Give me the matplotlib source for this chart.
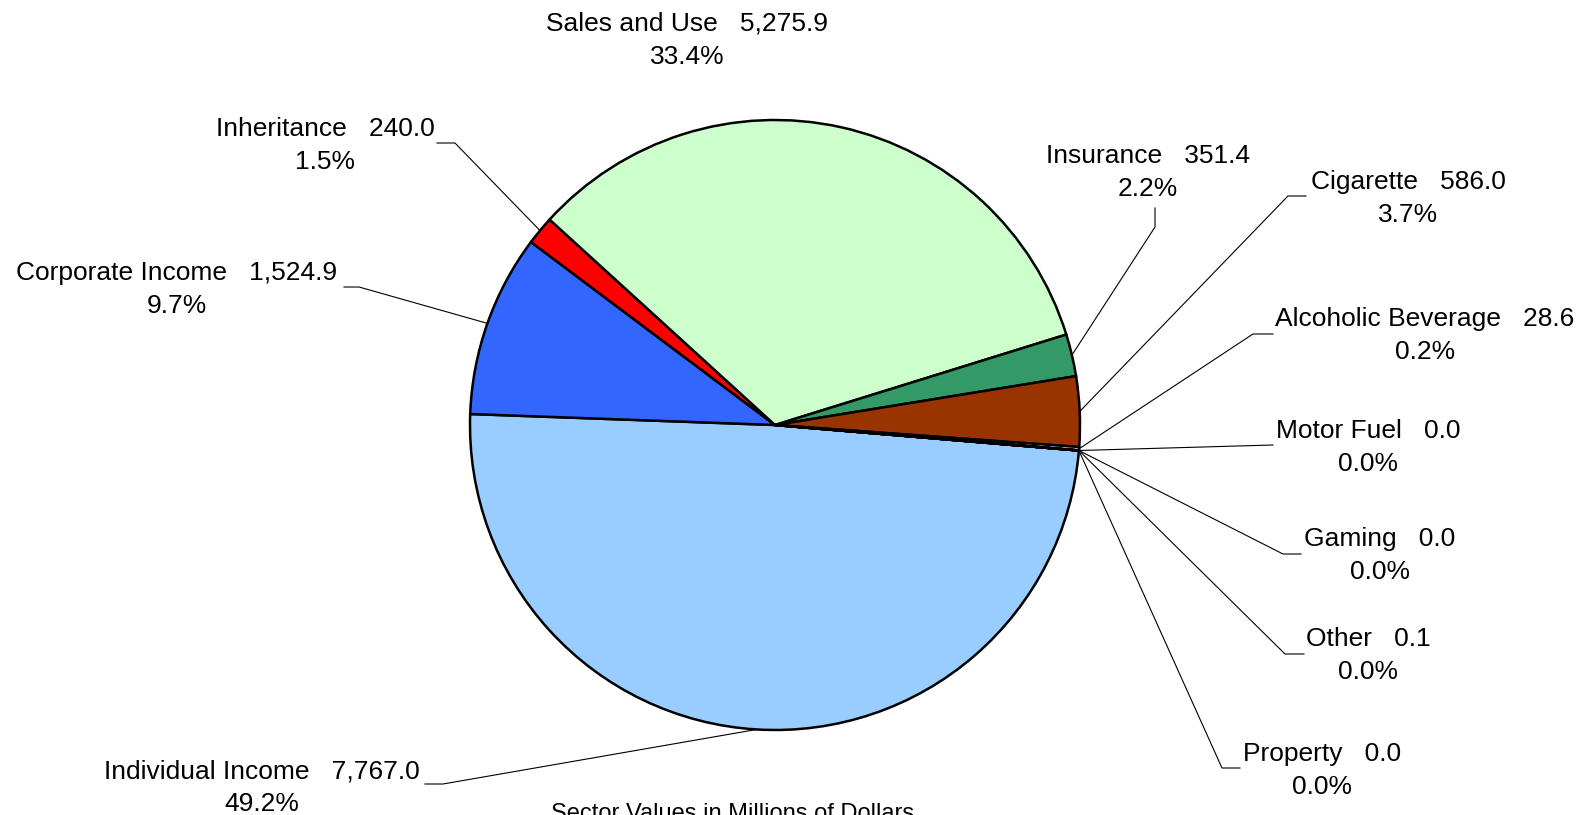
import numpy as np
import matplotlib
matplotlib.use("Agg")
import matplotlib.pyplot as plt

plt.rcParams['font.family'] = ['Liberation Sans', 'DejaVu Sans']

# data (millions of dollars), clockwise order starting at the right edge
names = ["Individual Income", "Corporate Income", "Inheritance", "Sales and Use",
         "Insurance", "Cigarette", "Alcoholic Beverage", "Motor Fuel",
         "Gaming", "Other", "Property"]
values = [7767.0, 1524.9, 240.0, 5275.9, 351.4, 586.0, 28.6, 0.0, 0.0, 0.1, 0.0]
colors = ["#99CCFF", "#3366FF", "#FF0000", "#CCFFCC", "#339966", "#993300",
          "#CCCCFF", "#FFFFCC", "#FF8080", "#0066CC", "#C0C0C0"]

# layout in pixels (top-left origin): first text line centre, leader points
W, H = 1587, 815
CX, CY, R = 775, 425, 305
label_pos = [(262, 771), (177, 273), (325, 129), (687, 24), (1148, 156),
             (1408, 182), (1425, 319), (1368, 431), (1380, 539), (1368, 639),
             (1322, 754)]
leader_pts = [[(425, 784), (443, 784)],
              [(344, 287), (359, 287)],
              [(437, 143), (455, 143)],
              [],
              [(1155, 208), (1155, 227)],
              [(1306, 196), (1288, 196)],
              [(1273, 334), (1253, 334)],
              [(1273, 445)],
              [(1301, 554), (1283, 554)],
              [(1304, 654), (1285, 654)],
              [(1240, 768), (1222, 768)]]
line_gap = 33

fig = plt.figure(figsize=(W / 100, H / 100), dpi=100)
ax = fig.add_axes([0, 0, 1, 1])

start = -4.8
wedges, _ = ax.pie(values, colors=colors, startangle=start, counterclock=False,
                   center=(CX, H - CY), radius=R,
                   wedgeprops=dict(edgecolor="black", linewidth=1.8))
ax.set_xlim(0, W)
ax.set_ylim(0, H)
ax.axis("off")

total = sum(values)
for i, (name, v) in enumerate(zip(names, values)):
    w = wedges[i]
    mid = np.deg2rad((w.theta1 + w.theta2) / 2)
    rim = (CX + R * np.cos(mid), H - CY + R * np.sin(mid))
    x, y = label_pos[i]
    ax.text(x, H - y, f"{name}   {v:,.1f}", ha="center", va="center", fontsize=19)
    ax.text(x, H - y - line_gap, f"{v / total * 100:.1f}%", ha="center", va="center", fontsize=19)
    if leader_pts[i]:
        xs = [p[0] for p in leader_pts[i]] + [rim[0]]
        ys = [H - p[1] for p in leader_pts[i]] + [rim[1]]
        ax.plot(xs, ys, color="black", linewidth=0.8)

ax.text(733, H - 820, "Sector Values in Millions of Dollars", ha="center", va="baseline",
        fontsize=17)

fig.savefig("out.png", dpi=100)
